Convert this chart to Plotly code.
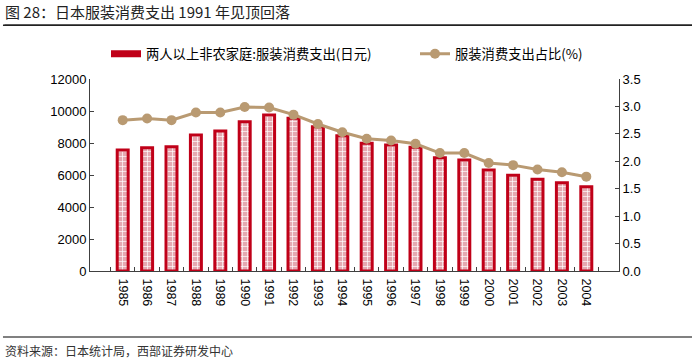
import plotly.graph_objects as go

years = [str(y) for y in range(1985, 2005)]
spend = [7560, 7700, 7770, 8500, 8750, 9330, 9750, 9540, 9020, 8460,
         7980, 7875, 7730, 7080, 6940, 6310, 5980, 5730, 5520, 5270]
ratio = [2.75, 2.78, 2.75, 2.89, 2.89, 2.99, 2.98, 2.85, 2.68, 2.53,
         2.41, 2.38, 2.32, 2.15, 2.15, 1.97, 1.93, 1.85, 1.80, 1.72]

bar_name = "两人以上非农家庭:服装消费支出(日元)"
line_name = "服装消费支出占比(%)"
title_text = "图 28：日本服装消费支出 1991 年见顶回落"
source_text = "资料来源：日本统计局，西部证券研发中心"

RED = "#C00018"
TAN = "#B99A72"
FONT = "Liberation Sans, Noto Sans CJK SC, sans-serif"
CJK = "Noto Sans CJK SC, sans-serif"

fig = go.Figure()
fig.add_trace(go.Bar(
    x=years, y=spend, name=bar_name, width=0.45, showlegend=False,
    marker=dict(color="#E6A9B1", line=dict(color=RED, width=3),
                pattern=dict(shape="+", fgcolor="white", bgcolor="#E6A9B1",
                             size=5, solidity=0.25)),
))
fig.add_trace(go.Scatter(
    x=years, y=ratio, name=line_name, yaxis="y2", mode="lines+markers",
    line=dict(color=TAN, width=3), marker=dict(color=TAN, size=10),
    showlegend=False,
))
# legend entries
fig.add_trace(go.Scatter(x=[None], y=[None], name=bar_name, mode="lines",
                         line=dict(color=RED, width=7), showlegend=True,
                         legend="legend"))
fig.add_trace(go.Scatter(x=[None], y=[None], name=line_name, mode="lines+markers",
                         line=dict(color=TAN, width=3), marker=dict(color=TAN, size=10),
                         showlegend=True, yaxis="y2", legend="legend2"))

leg_common = dict(orientation="h", yanchor="middle", y=1.13, xanchor="left",
                  font=dict(family=CJK, size=13.3), itemwidth=30,
                  bgcolor="rgba(0,0,0,0)", borderwidth=0)

fig.update_layout(
    template="none",
    width=700, height=361,
    margin=dict(l=90, r=81, t=79, b=90, autoexpand=False),
    plot_bgcolor="white", paper_bgcolor="white",
    font=dict(family=FONT, size=12, color="#000000"),
    showlegend=True,
    legend=dict(x=(106 - 90) / 529, **leg_common),
    legend2=dict(x=(415 - 90) / 529, **leg_common),
    bargap=0.5,
    xaxis=dict(type="category", showline=True, linecolor="#404040", linewidth=1,
               ticks="inside", ticklen=4, tickcolor="#404040", tickson="boundaries",
               tickangle=90, showgrid=False, automargin=False, ticklabelstandoff=4,
               tickfont=dict(size=12.5)),
    yaxis=dict(range=[0, 12000], dtick=2000, tickformat="d", showline=True,
               linecolor="#404040", linewidth=1, ticks="inside", ticklen=4,
               tickcolor="#404040", showgrid=False, zeroline=False, automargin=False,
               tickfont=dict(size=13)),
    yaxis2=dict(range=[0, 3.5], dtick=0.5, tickformat=".1f", overlaying="y",
                side="right", showline=True, linecolor="#404040", linewidth=1,
                ticks="inside", ticklen=4, tickcolor="#404040", showgrid=False,
                zeroline=False, automargin=False, tickfont=dict(size=13)),
)

# title and separator lines
fig.add_annotation(text=title_text, xref="paper", yref="paper", x=-0.1645, y=1.349,
                   xanchor="left", yanchor="middle", showarrow=False,
                   font=dict(family=CJK, size=15, color="#222222"))
# title rule: drawn as an annotation arrow line (no head)
fig.add_annotation(text="", xref="paper", yref="paper", x=1.138, y=1.28,
                   showarrow=True, arrowhead=0, arrowwidth=1.5, arrowcolor="#222222",
                   ax=-689, ay=0, standoff=0, startstandoff=0)
fig.add_shape(type="line", xref="paper", yref="paper", x0=-0.1645, x1=1.138,
              y0=1.28, y1=1.28, line=dict(color="#222222", width=1.5), layer="below")
fig.add_shape(type="rect", xref="paper", yref="paper", x0=-0.1645, x1=1.138,
              y0=-0.3495, y1=-0.3385, fillcolor="#808080", line=dict(width=0),
              layer="above")
fig.add_annotation(text=source_text, xref="paper", yref="paper", x=-0.1645, y=-0.415,
                   xanchor="left", yanchor="middle", showarrow=False,
                   font=dict(family=CJK, size=12, color="#333333"))

fig.write_html("out.html", config={"displayModeBar": False},
               post_script="document.body.style.margin='0';")
